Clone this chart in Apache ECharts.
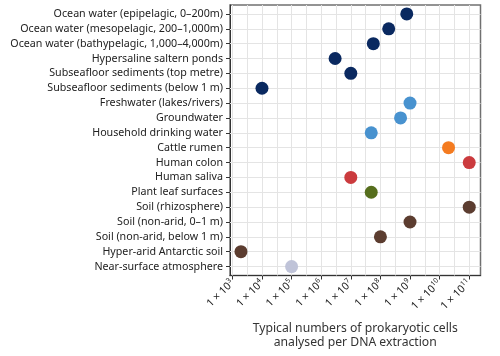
<!DOCTYPE html>
<html><head><meta charset="utf-8">
<script src="https://cdn.jsdelivr.net/npm/echarts@6/dist/echarts.min.js"></script>
<style>html,body{margin:0;padding:0;background:#fff}#c{width:500px;height:356px}</style>
</head><body><div id="c"></div>
<script>
const categories = [
  "Ocean water (epipelagic, 0–200m)",
  "Ocean water (mesopelagic, 200–1,000m)",
  "Ocean water (bathypelagic, 1,000–4,000m)",
  "Hypersaline saltern ponds",
  "Subseafloor sediments (top metre)",
  "Subseafloor sediments (below 1 m)",
  "Freshwater (lakes/rivers)",
  "Groundwater",
  "Household drinking water",
  "Cattle rumen",
  "Human colon",
  "Human saliva",
  "Plant leaf surfaces",
  "Soil (rhizosphere)",
  "Soil (non-arid, 0–1 m)",
  "Soil (non-arid, below 1 m)",
  "Hyper-arid Antarctic soil",
  "Near-surface atmosphere"
];
// log10 of typical prokaryotic cells per DNA extraction
const log10Cells = [8.89, 8.28, 7.76, 6.47, 7.0, 4.0, 9.0, 8.68, 7.69, 10.3, 11.0, 7.0, 7.69, 11.0, 9.0, 8.0, 3.29, 5.0];
const groups = ["ocean","ocean","ocean","ocean","ocean","ocean","fresh","fresh","fresh","animal","human","human","plant","soil","soil","soil","soil","air"];
const groupColors = {ocean:"#0a2960", fresh:"#4892cf", animal:"#f47b20", human:"#cb3b3e", plant:"#566e1d", soil:"#5c3d30", air:"#bfc3d8"};
const tickExponents = [3,4,5,6,7,8,9,10,11];
const xMin = 2.92, xMax = 11.38;

const vGrid = [];
for (let v = 3; v <= 11.001; v += 0.5) vGrid.push({xAxis: v});
const hGrid = categories.map((c, i) => ({yAxis: i}));

const chart = echarts.init(document.getElementById('c'), null, {renderer: 'canvas'});
const font = "Noto Sans";
chart.setOption({
  animation: false,
  grid: {left: 230, right: 19.5, top: 5, bottom: 80.5, show: true, borderColor: '#707070', borderWidth: 1.5, backgroundColor: 'transparent'},
  xAxis: {
    type: 'value', min: xMin, max: xMax,
    axisLine: {show: true, onZero: false, lineStyle: {color: '#333', width: 1}},
    axisTick: {show: true, length: 4, lineStyle: {color: '#333'}, customValues: tickExponents},
    splitLine: {show: false},
    axisLabel: {
      customValues: tickExponents, rotate: 45, margin: 6,
      fontFamily: font, fontSize: 10.5, color: '#222',
      formatter: v => '1 × 10{s|' + Math.round(v) + '}',
      rich: {s: {fontFamily: font, fontSize: 7, color: '#222', verticalAlign: 'top', padding: [0,0,6,0]}}
    },
    name: 'Typical numbers of prokaryotic cells\nanalysed per DNA extraction',
    nameLocation: 'middle', nameGap: 46,
    nameTextStyle: {fontFamily: font, fontSize: 12.2, color: '#333', lineHeight: 14}
  },
  yAxis: {
    type: 'value', inverse: true, min: -0.6, max: categories.length - 1 + 0.6,
    axisLine: {show: true, onZero: false, lineStyle: {color: '#333', width: 1}},
    axisTick: {show: true, length: 4, lineStyle: {color: '#333'}, customValues: categories.map((c, i) => i)},
    splitLine: {show: false},
    axisLabel: {
      customValues: categories.map((c, i) => i), margin: 7,
      fontFamily: font, fontSize: 10.7, color: '#222',
      formatter: v => categories[Math.round(v)]
    }
  },
  series: [
    {
      type: 'scatter', data: [], z: 1, silent: true,
      markLine: {silent: true, symbol: ['none','none'], label: {show: false}, animation: false,
        lineStyle: {color: '#e4e4e4', width: 1, type: 'solid'},
        data: vGrid.concat(hGrid)}
    },
    {
      type: 'scatter', z: 5, symbolSize: 13,
      itemStyle: {opacity: 1},
      data: log10Cells.map((v, i) => ({value: [v, i], itemStyle: {color: groupColors[groups[i]], opacity: 1}}))
    }
  ]
});
</script></body></html>
